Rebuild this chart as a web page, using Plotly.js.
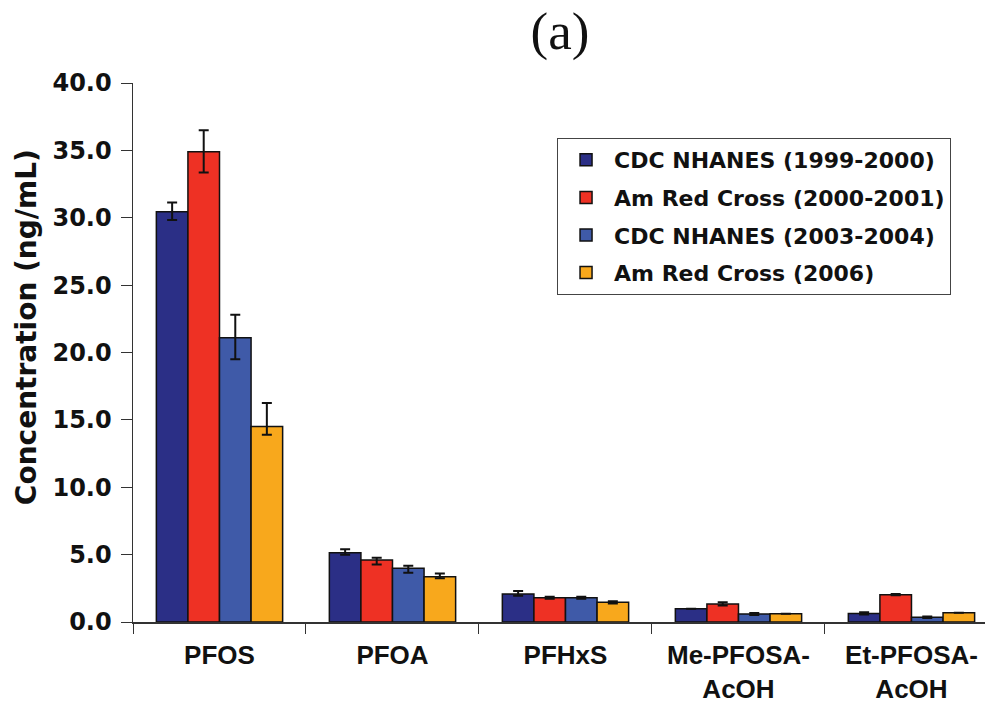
<!DOCTYPE html>
<html>
<head>
<meta charset="utf-8">
<script src="https://cdn.plot.ly/plotly-3.0.1.min.js"></script>
<style>html,body{margin:0;padding:0;background:#fff;}#chart{width:985px;height:706px;}</style>
</head>
<body>
<div id="chart"></div>
<script>
var categories = ["PFOS", "PFOA", "PFHxS", "Me-PFOSA-<br>AcOH", "Et-PFOSA-<br>AcOH"];
var seriesNames = ["CDC NHANES (1999-2000)", "Am Red Cross (2000-2001)", "CDC NHANES (2003-2004)", "Am Red Cross (2006)"];
var yTitle = "Concentration (ng/mL)";
var nhanes9900 = [30.45, 5.14, 2.08, 0.99, 0.64];
var redcross0001 = [34.9, 4.6, 1.8, 1.34, 2.03];
var nhanes0304 = [21.1, 3.98, 1.8, 0.59, 0.35];
var redcross06 = [14.5, 3.36, 1.46, 0.62, 0.69];
var errPlus9900 = [0.68, 0.25, 0.22, 0, 0.08];
var errMinus9900 = [0.62, 0.14, 0.13, 0, 0.08];
var errPlus0001 = [1.6, 0.17, 0.08, 0.12, 0.05];
var errMinus0001 = [1.55, 0.33, 0.08, 0.12, 0.05];
var errPlus0304 = [1.7, 0.2, 0.08, 0.07, 0.05];
var errMinus0304 = [1.6, 0.32, 0.08, 0.07, 0.05];
var errPlus06 = [1.75, 0.24, 0.08, 0, 0];
var errMinus06 = [0.6, 0.12, 0.08, 0, 0];
var colors = ["#2b2f86", "#ee3124", "#3f5aa8", "#f8a81c"];

var values = [nhanes9900, redcross0001, nhanes0304, redcross06];
var plus = [errPlus9900, errPlus0001, errPlus0304, errPlus06];
var minus = [errMinus9900, errMinus0001, errMinus0304, errMinus06];

var traces = values.map(function (v, i) {
  return {
    type: "bar",
    name: seriesNames[i],
    legendgroup: "g" + i,
    x: categories,
    y: v,
    marker: { color: colors[i], line: { color: "#111", width: 1.5 } },
    error_y: { type: "data", symmetric: false, array: plus[i], arrayminus: minus[i], color: "#111", thickness: 2, width: 5 }
  };
});

var layout = {
  width: 985, height: 706,
  margin: { l: 133, r: 0, t: 83, b: 84 },
  paper_bgcolor: "#fff", plot_bgcolor: "#fff",
  barmode: "group", bargap: 0.27, bargroupgap: 0,
  showlegend: true,
  title: { text: "(a)", font: { family: "Liberation Serif, Times New Roman, serif", size: 53, color: "#111" }, x: 0.5685, xanchor: "center", y: 0.957, yanchor: "middle" },
  font: { family: "Liberation Sans, Arial, sans-serif", color: "#111" },
  xaxis: {
    type: "category", range: [-0.5, 4.425], tickson: "boundaries",
    ticks: "outside", ticklen: 10, tickcolor: "#333", tickwidth: 1,
    ticklabelstandoff: 9,
    showline: true, linecolor: "#333", linewidth: 1.5, showgrid: false,
    tickfont: { family: "Liberation Sans, Arial, sans-serif", size: 26, weight: "bold", color: "#111" }
  },
  yaxis: {
    range: [0, 40], dtick: 5, tickformat: ".1f",
    ticks: "outside", ticklen: 11, tickcolor: "#333", tickwidth: 1,
    ticklabelstandoff: 4,
    showline: true, linecolor: "#333", linewidth: 1.5, showgrid: false, zeroline: false,
    tickfont: { family: "DejaVu Sans, sans-serif", size: 24, weight: "bold", color: "#111" }
  },
  annotations: [{
    text: yTitle, xref: "paper", yref: "paper", x: -0.1256, y: 0.547,
    xanchor: "center", yanchor: "middle", textangle: -90, showarrow: false,
    font: { family: "DejaVu Sans, sans-serif", size: 28, weight: "bold", color: "#111" }
  }],
  legend: {
    x: 0.4977, y: 0.898, xanchor: "left", yanchor: "top",
    bordercolor: "#444", borderwidth: 1, bgcolor: "#fff",
    itemwidth: 46, tracegroupgap: 6,
    font: { family: "DejaVu Sans, sans-serif", size: 22, weight: "bold", color: "#111" }, traceorder: "grouped"
  }
};

Plotly.newPlot("chart", traces, layout, { displayModeBar: false, staticPlot: true });
</script>
</body>
</html>
